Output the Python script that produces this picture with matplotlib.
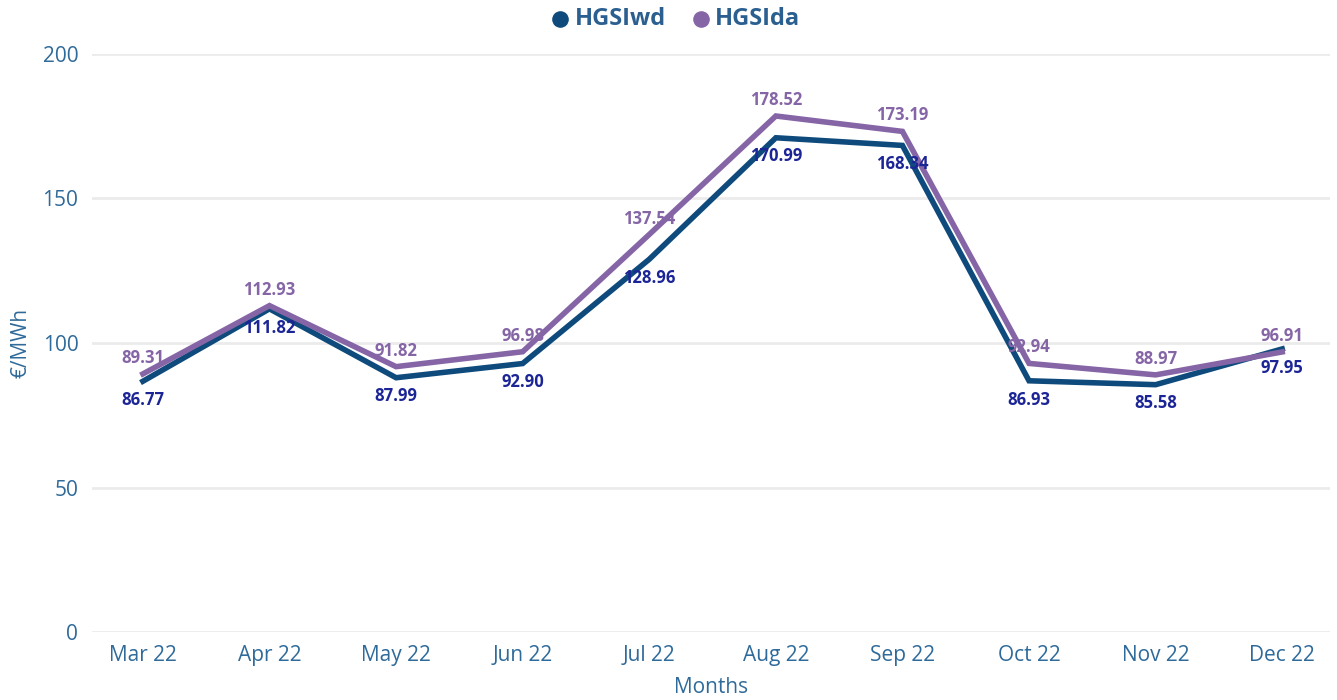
import numpy as np
import matplotlib.pyplot as plt

plt.rcParams['font.family'] = ['Open Sans', 'DejaVu Sans']

months = ["Mar 22", "Apr 22", "May 22", "Jun 22", "Jul 22", "Aug 22",
          "Sep 22", "Oct 22", "Nov 22", "Dec 22"]
hgsi_wd = [86.77, 111.82, 87.99, 92.90, 128.96, 170.99, 168.34, 86.93, 85.58, 97.95]
hgsi_da = [89.31, 112.93, 91.82, 96.98, 137.54, 178.52, 173.19, 92.94, 88.97, 96.91]

c_wd = '#0e4a7c'
c_da = '#8565a6'
c_wd_lbl = '#1c2596'
c_tick = '#2e6a9a'

fig = plt.figure(figsize=(13.37, 7), dpi=100)
ax = fig.add_axes([0.069, 0.097, 0.926, 0.826])
x = np.arange(len(months))

ax.plot(x, hgsi_wd, color=c_wd, lw=4, solid_joinstyle='miter', zorder=3)
ax.plot(x, hgsi_da, color=c_da, lw=4, solid_joinstyle='miter', zorder=3)

for i in range(len(months)):
    ax.annotate(f"{hgsi_da[i]:.2f}", (x[i], hgsi_da[i]), xytext=(0, 5),
                textcoords='offset points', ha='center', va='bottom',
                color=c_da, fontsize=12, fontweight='bold', zorder=4)
    ax.annotate(f"{hgsi_wd[i]:.2f}", (x[i], hgsi_wd[i]), xytext=(0, -7),
                textcoords='offset points', ha='center', va='top',
                color=c_wd_lbl, fontsize=12, fontweight='bold', zorder=4)

ax.set_ylim(0, 200)
ax.set_yticks([0, 50, 100, 150, 200])
ax.set_xlim(-0.4, 9.38)
ax.set_xticks(x)
ax.set_xticklabels(months)
ax.grid(axis='y', color='#ebebeb', lw=2)
ax.set_axisbelow(True)
for s in ax.spines.values():
    s.set_visible(False)
ax.tick_params(length=0, labelsize=15, colors=c_tick, pad=9)
ax.tick_params(axis='y', pad=10)
ax.set_xlabel("Months", fontsize=15, color=c_tick, labelpad=8)
ax.set_ylabel("€/MWh", fontsize=15, color=c_tick, labelpad=8)

h1 = ax.scatter([], [], color=c_wd, s=120, label='HGSIwd')
h2 = ax.scatter([], [], color=c_da, s=120, label='HGSIda')
leg = fig.legend(handles=[h1, h2], loc='upper center', bbox_to_anchor=(0.5, 1.02),
                 ncol=2, frameon=False, handletextpad=-0.4, columnspacing=0.5,
                 prop={'size': 17, 'weight': 'bold'})
for t in leg.get_texts():
    t.set_color('#2a5f8f')

fig.savefig('out.png', dpi=100)
